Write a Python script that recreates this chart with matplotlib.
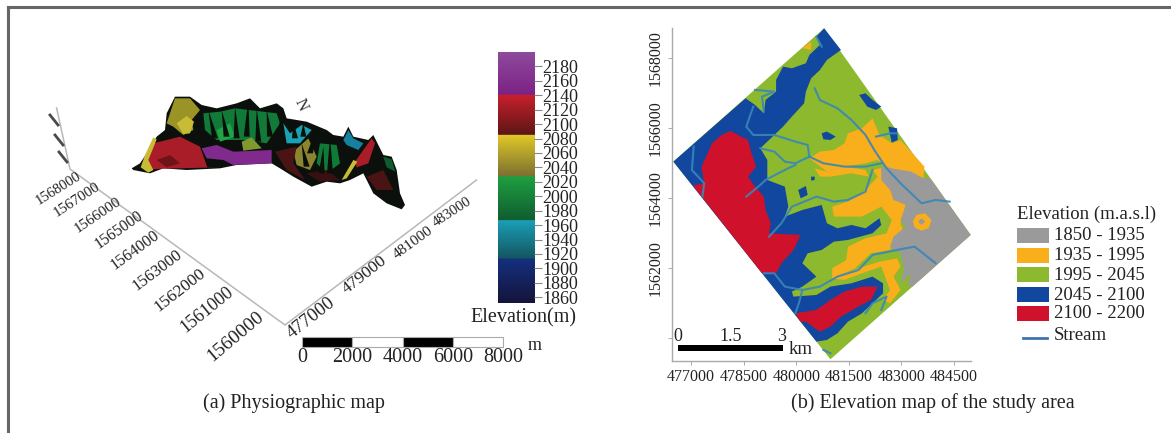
#!/usr/bin/env python3
"""Two panel figure: physiographic view of the study area and its elevation map."""

import matplotlib
matplotlib.use("Agg")
import matplotlib.pyplot as plt
import numpy as np
from matplotlib.colors import LinearSegmentedColormap
from matplotlib.patches import Polygon, Rectangle

plt.rcParams["font.family"] = ["Liberation Serif", "DejaVu Serif"]

W, H = 1171, 433

# ---- panel (a) values
cbar_ticks = list(range(1860, 2181, 20))
cbar_low, cbar_high = 1852, 2200
cbar_stops = [
    (1852, "#14143a"), (1913, "#14307f"), (1913.1, "#14555f"), (1967, "#1aa0b8"),
    (1967.1, "#105d30"), (2028, "#1fa040"), (2028.1, "#7b7030"), (2085, "#e0c828"),
    (2085.1, "#5c1616"), (2141, "#c8202c"), (2141.1, "#7b2285"), (2200, "#8e4a9c"),
]
north_labels = ["1568000", "1567000", "1566000", "1565000", "1564000",
                "1563000", "1562000", "1561000", "1560000"]
east_labels = ["477000", "479000", "481000", "483000"]
scale_a_labels = ["0", "2000", "4000", "6000", "8000"]

# label placement read from the 3D view (sheet pixels)
north_xy = [(58, 189), (77, 200), (98, 215), (119, 230), (135, 250),
            (157, 270), (180, 290), (207, 310), (235, 337)]
north_rot = [32, 33, 34, 35, 36, 37, 38, 39, 40]
north_size = [10.5, 10.8, 11, 11.3, 11.6, 12, 12.5, 13, 14]
east_xy = [(311, 318), (365, 275), (413, 243), (452, 212)]
east_rot = [38, 38, 36, 33]
east_size = [13.5, 12.5, 11, 10.5]

# terrain silhouette and colour patches of the 3D view
terrain_outline = [(35, 265), (60, 250), (90, 205), (110, 170), (135, 150), (140, 100), (165, 50), (210, 50),
                   (245, 75), (290, 85), (350, 70), (390, 55), (420, 85), (470, 70), (490, 85), (500, 115),
                   (560, 125), (620, 150), (640, 165), (670, 170), (685, 140), (700, 170), (745, 180), (760, 165),
                   (790, 225), (815, 230), (830, 270), (840, 340), (855, 375), (845, 388), (800, 370), (760, 340),
                   (730, 280), (690, 300), (660, 310), (620, 305), (575, 320), (520, 290), (480, 265), (455, 250),
                   (350, 255), (300, 265), (200, 270), (130, 265), (90, 280), (40, 270)]
terrain_patches = [
    ("#9a9426", [(140, 130), (165, 55), (210, 55), (240, 90), (215, 120), (220, 150), (190, 165), (160, 140)]),
    ("#c9bc35", [(170, 130), (200, 108), (222, 125), (210, 160), (190, 162)]),
    ("#a81d28", [(100, 190), (180, 170), (240, 200), (262, 262), (300, 262), (130, 266), (90, 268), (72, 238)]),
    ("#6e1418", [(110, 240), (150, 225), (180, 250), (140, 262)]),
    ("#c9bc35", [(62, 262), (75, 225), (100, 172), (110, 178), (85, 240), (100, 270), (85, 278)]),
    ("#7f2a8c", [(245, 205), (290, 195), (340, 215), (455, 210), (455, 250), (340, 255), (310, 240), (260, 235)]),
    ("#127a38", [(250, 100), (300, 95), (345, 85), (470, 100), (480, 130), (440, 190), (380, 180), (290, 180), (255, 150)]),
    ("#1fa347", [(290, 150), (330, 130), (345, 170), (300, 185)]),
    ("#7e9a2e", [(365, 185), (395, 172), (425, 205), (370, 212)]),
    ("#19a2b5", [(490, 130), (510, 160), (545, 135), (575, 150), (540, 190), (500, 190)]),
    ("#1580a0", [(670, 180), (685, 150), (700, 175), (730, 190), (715, 210), (680, 195)]),
    ("#8c8530", [(520, 215), (565, 175), (590, 230), (570, 270), (530, 255)]),
    ("#4a1414", [(465, 215), (530, 200), (520, 250), (555, 300), (500, 270)]),
    ("#127a38", [(600, 190), (650, 195), (660, 250), (620, 280), (590, 250)]),
    ("#a81d28", [(705, 245), (755, 175), (765, 190), (745, 250), (710, 262)]),
    ("#c9bc35", [(665, 300), (700, 240), (712, 245), (680, 295)]),
    ("#4a1414", [(740, 290), (790, 270), (820, 330), (770, 330)]),
    ("#0f5a2e", [(790, 230), (815, 238), (826, 275), (800, 262)]),
    ("#3a0f12", [(560, 280), (620, 270), (660, 300), (600, 305)]),
]
terrain_spikes = [(265, 90, 285, 175), (305, 90, 320, 170), (345, 80, 350, 175), (385, 60, 380, 170),
                  (410, 85, 415, 185), (440, 90, 450, 170), (485, 95, 480, 170), (520, 125, 525, 175),
                  (550, 130, 550, 170), (590, 145, 570, 220), (630, 170, 630, 280), (610, 200, 605, 280),
                  (545, 190, 560, 260)]

legend_labels = ["1850 - 1935", "1935 - 1995", "1995 - 2045", "2045 - 2100", "2100 - 2200"]
zone_colors = ["#9a9a9a", "#f9ae1b", "#8cb92d", "#11479e", "#d0112b"]
stream_color = "#3a86b8"
east_ticks = [477000, 478500, 480000, 481500, 483000, 484500]
north_ticks = [1560000, 1562000, 1564000, 1566000, 1568000]

diamond = [(582, 25), (1000, 645), (600, 1018), (152, 425)]
gray_zone = [(745, 440), (830, 455), (865, 475), (885, 475), (1000, 645), (834, 800), (820, 795), (830, 760),
             (800, 790), (810, 750), (800, 700), (780, 690), (770, 680), (780, 650), (815, 620), (800, 600),
             (815, 555), (780, 540), (770, 510), (745, 480)]
gray_core = [(850, 605), (860, 595), (870, 605), (860, 615)]
orange_zones = [
    [(720, 295), (740, 345), (775, 370), (800, 360), (868, 440), (865, 480), (760, 440), (735, 420), (700, 430),
     (640, 440), (590, 455), (540, 415), (570, 395), (610, 390), (640, 370), (650, 340), (690, 325)],
    [(720, 450), (760, 440), (790, 530), (815, 555), (800, 610), (810, 640), (780, 665), (770, 690), (715, 700),
     (670, 745), (605, 775), (605, 745), (645, 720), (650, 680), (700, 655), (760, 640), (775, 600), (745, 560),
     (690, 590), (610, 590), (605, 560), (650, 545), (700, 510), (735, 470)],
    [(555, 445), (590, 455), (640, 440), (700, 450), (710, 470), (660, 460), (600, 470), (570, 470)],
    [(600, 775), (680, 745), (740, 725), (790, 715), (800, 740), (780, 770), (800, 810), (770, 850), (750, 840),
     (770, 810), (745, 740), (690, 760), (640, 780)],
    [(520, 85), (545, 65), (545, 90)],
    [(835, 605), (845, 585), (870, 580), (888, 600), (880, 625), (858, 632), (840, 622)],
]
blue_zones = [
    [(582, 25), (630, 90), (590, 120), (570, 150), (545, 175), (530, 215), (525, 250), (490, 290), (465, 320),
     (440, 345), (400, 385), (420, 420), (420, 480), (470, 500), (480, 560), (470, 590), (520, 570), (575, 555),
     (590, 610), (620, 625), (660, 615), (700, 625), (740, 595), (745, 615), (720, 640), (650, 660), (610, 665),
     (575, 690), (535, 700), (520, 730), (560, 770), (520, 800), (490, 815), (500, 850), (473, 850), (152, 425),
     (358, 235), (385, 255), (410, 280), (415, 240), (445, 215), (445, 180), (465, 140), (490, 145), (530, 130),
     (540, 105), (570, 75), (560, 50)],
    [(473, 850), (495, 830), (560, 825), (600, 800), (660, 790), (720, 770), (750, 790), (750, 820), (720, 850),
     (690, 880), (650, 905), (620, 940), (590, 960), (560, 965)],
    [(682, 225), (700, 220), (720, 240), (745, 260), (730, 270), (705, 260)],
    [(575, 340), (590, 335), (615, 350), (600, 360), (580, 358)],
    [(765, 320), (790, 325), (792, 360), (775, 368), (770, 345)],
    [(508, 510), (530, 498), (535, 525), (515, 535)],
    [(545, 470), (555, 470), (555, 480), (545, 482)],
]
red_zones = [
    [(315, 333), (345, 350), (365, 360), (375, 400), (388, 440), (365, 470), (385, 500), (410, 530), (415, 570),
     (430, 610), (425, 640), (515, 645), (495, 690), (460, 730), (445, 760), (405, 760), (208, 497), (240, 490),
     (232, 440), (250, 400), (262, 370), (290, 345)],
    [(514, 905), (500, 880), (560, 870), (600, 840), (640, 815), (690, 800), (735, 800), (715, 840), (680, 860),
     (630, 890), (600, 920), (570, 935), (530, 905)],
]
streams = [
    [(555, 205), (570, 240), (620, 265), (660, 300), (700, 345), (725, 390), (760, 445), (800, 490), (860, 550),
     (900, 540), (940, 545)],
    [(440, 345), (500, 365), (535, 375), (540, 410), (580, 430), (640, 440), (700, 440), (745, 430)],
    [(400, 385), (440, 395), (470, 425), (500, 430), (540, 410)],
    [(360, 530), (400, 495), (415, 480), (470, 450), (500, 435)],
    [(425, 650), (460, 610), (490, 560), (560, 530), (610, 545), (650, 540), (700, 515), (720, 450)],
    [(410, 760), (440, 760), (470, 800), (520, 810), (570, 800), (620, 770), (680, 750), (720, 705), (790, 690),
     (840, 680), (900, 730)],
    [(500, 880), (510, 850), (520, 810)],
    [(380, 260), (360, 320), (380, 345), (440, 345)],
    [(210, 380), (205, 450), (240, 490), (235, 530)],
    [(385, 210), (440, 215), (405, 230), (410, 275)],
    [(700, 880), (720, 850), (760, 830), (745, 870)],
    [(560, 50), (575, 80)],
    [(580, 990), (600, 1000)],
    [(730, 350), (770, 340), (790, 340)],
]


def to_map(points):
    """Sheet grid to easting / northing in metres."""
    pts = np.asarray(points, dtype=float)
    east = 477000 + (pts[:, 0] - 203) * 10.01
    north = 1568000 - (pts[:, 1] - 115) * 9.524
    return np.column_stack([east, north])


def crop_a(points):
    """Terrain digitising grid to sheet pixels."""
    pts = np.asarray(points, dtype=float)
    return np.column_stack([120 + pts[:, 0] / 3, 80 + pts[:, 1] / 3])


def px_axes(fig, left, top, right, bottom):
    return fig.add_axes([left / W, 1 - bottom / H, (right - left) / W, (bottom - top) / H])


def draw_sheet(fig):
    ax = fig.add_axes([0, 0, 1, 1])
    ax.set_xlim(0, W)
    ax.set_ylim(H, 0)
    ax.axis("off")

    # frame
    ax.plot([8, 8], [H, 7], color="#666666", lw=2.2)
    ax.plot([8, W], [7, 7], color="#666666", lw=2.2)

    # 3D box axes
    ax.plot([56.6, 70, 285, 476.5], [108, 169, 325, 180], color="#b8b8b8", lw=1.1)
    for x, y in ((54, 120), (59, 140), (63, 157)):
        ax.plot([x - 4, x + 4], [y - 5, y + 5], color="#4a4a4a", lw=2)

    ax.add_patch(Polygon(crop_a(terrain_outline), closed=True, fc="#0c100c", ec="none"))
    for color, pts in terrain_patches:
        ax.add_patch(Polygon(crop_a(pts), closed=True, fc=color, ec="none"))
    for x0, y0, x1, y1 in terrain_spikes:
        tip = crop_a([(x0, y0)])[0]
        base = crop_a([(x1, y1)])[0]
        ax.add_patch(Polygon([tip, base + (-3, 0), base + (3, 0)], closed=True, fc="#0a0f0a", ec="none"))
    ax.text(301, 105, "N", rotation=-65, fontsize=12, ha="center", va="center", color="#333333")

    for label, (x, y), rot, size in zip(north_labels, north_xy, north_rot, north_size):
        ax.text(x, y, label, rotation=rot, fontsize=size, ha="center", va="center", color="#222222")
    for label, (x, y), rot, size in zip(east_labels, east_xy, east_rot, east_size):
        ax.text(x, y, label, rotation=rot, fontsize=size, ha="center", va="center", color="#222222")

    # scale bar of panel (a)
    seg = (503 - 302) / 4
    for i in range(4):
        ax.add_patch(Rectangle((302 + i * seg, 337), seg, 10, fc="black" if i % 2 == 0 else "white",
                               ec="#aaaaaa", lw=0.8))
    for i, label in enumerate(scale_a_labels):
        ax.text(302 + i * seg, 358, label, fontsize=14.5, ha="center", va="center", color="#222222")
    ax.text(535, 345, "m", fontsize=13, ha="center", va="center", color="#222222")
    ax.text(523.5, 318, "Elevation(m)", fontsize=14.5, ha="center", va="center", color="#222222")

    ax.text(294, 403, "(a) Physiographic map", fontsize=14.5, ha="center", va="center", color="#222222")
    ax.text(933, 403, "(b) Elevation map of the study area", fontsize=14.5, ha="center", va="center",
            color="#222222")

    # legend of panel (b)
    ax.text(1017, 214, "Elevation (m.a.s.l)", fontsize=13.5, ha="left", va="center", color="#222222")
    tops = [228, 248, 267, 287, 306]
    for top, color, label in zip(tops, zone_colors, legend_labels):
        ax.add_patch(Rectangle((1017, top), 32, 15, fc=color, ec="none"))
        ax.text(1054, top + 8, label, fontsize=13.5, ha="left", va="center", color="#222222")
    ax.plot([1023, 1047], [338, 338], color="#3f74b0", lw=2)
    ax.text(1054, 336, "Stream", fontsize=13.5, ha="left", va="center", color="#222222")
    return ax


def draw_colorbar(fig):
    ax = px_axes(fig, 497.5, 52, 534, 303)
    levels = np.linspace(cbar_low, cbar_high, 400).reshape(-1, 1)
    span = cbar_high - cbar_low
    cmap = LinearSegmentedColormap.from_list("elev", [((v - cbar_low) / span, c) for v, c in cbar_stops], N=512)
    ax.imshow(levels, origin="lower", aspect="auto", cmap=cmap, extent=[0, 1, cbar_low, cbar_high])
    ax.set_xticks([])
    ax.yaxis.tick_right()
    ax.set_yticks(cbar_ticks)
    ax.tick_params(axis="y", length=6, width=0.8, color="#888888", pad=0, labelsize=13, labelcolor="#222222")
    for spine in ax.spines.values():
        spine.set_visible(False)


def draw_map(fig):
    ax = px_axes(fig, 671.6, 28.3, 970.8, 361)
    ax.patch.set_alpha(0)
    ax.set_xlim(476440, 484981)
    ax.set_ylim(1559351, 1568857)

    ax.add_patch(Polygon(to_map(diamond), closed=True, fc=zone_colors[2], ec="none"))
    for pts in orange_zones:
        ax.add_patch(Polygon(to_map(pts), closed=True, fc=zone_colors[1], ec="none"))
    ax.add_patch(Polygon(to_map(gray_zone), closed=True, fc=zone_colors[0], ec="none"))
    ax.add_patch(Polygon(to_map(orange_zones[5]), closed=True, fc=zone_colors[1], ec="none"))
    ax.add_patch(Polygon(to_map(gray_core), closed=True, fc=zone_colors[0], ec="none"))
    for pts in blue_zones:
        ax.add_patch(Polygon(to_map(pts), closed=True, fc=zone_colors[3], ec="none"))
    for pts in red_zones:
        ax.add_patch(Polygon(to_map(pts), closed=True, fc=zone_colors[4], ec="none"))
    for pts in streams:
        xy = to_map(pts)
        ax.plot(xy[:, 0], xy[:, 1], color=stream_color, lw=1.5, alpha=0.9)

    # scale bar of panel (b), 3 km long
    bar = to_map([(165, 975), (465, 993)])
    ax.add_patch(Rectangle((bar[0, 0], bar[1, 1]), 3000, bar[0, 1] - bar[1, 1], fc="black", ec="none"))
    for label, u in zip(["0", "1.5", "3"], [165, 315, 462]):
        x, y = to_map([(u, 950)])[0]
        ax.text(x, y, label, fontsize=13, ha="center", va="center", color="#222222")
    x, y = to_map([(515, 988)])[0]
    ax.text(x, y, "km", fontsize=13.5, ha="center", va="center", color="#222222")

    ax.set_xticks(east_ticks)
    ax.set_xticklabels([str(v) for v in east_ticks])
    ax.set_yticks(north_ticks)
    ax.set_yticklabels([""] + [str(v) for v in north_ticks[1:]], rotation=90, va="center")
    ax.tick_params(length=3, width=0.7, color="#aaaaaa", labelsize=11.5, labelcolor="#222222", pad=3)
    for side in ("top", "right"):
        ax.spines[side].set_visible(False)
    for side in ("left", "bottom"):
        ax.spines[side].set_color("#aaaaaa")
        ax.spines[side].set_linewidth(1.0)


def main() -> None:
    fig = plt.figure(figsize=(W / 100, H / 100), dpi=100, facecolor="white")
    draw_sheet(fig)
    draw_colorbar(fig)
    draw_map(fig)
    fig.savefig("out.png", dpi=100)
    plt.close(fig)


if __name__ == "__main__":
    main()
